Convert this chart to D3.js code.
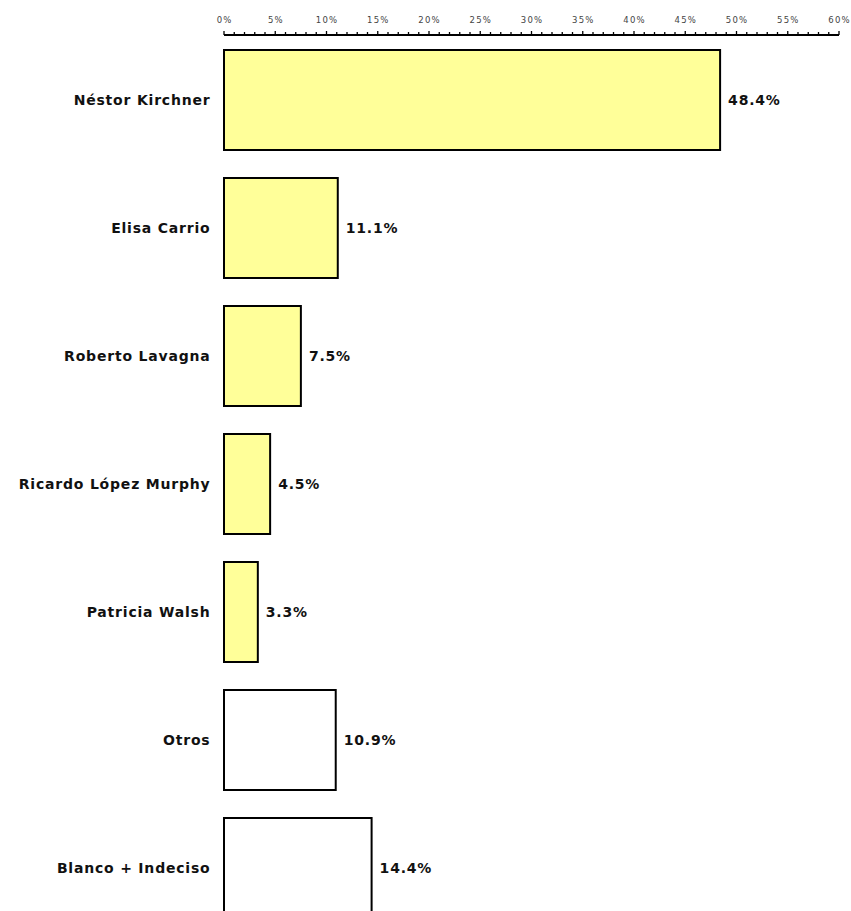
<!DOCTYPE html>
<html><head><meta charset="utf-8">
<script src="https://cdn.jsdelivr.net/npm/d3@7"></script>
<style>body{margin:0;background:#fff;overflow:hidden}</style>
</head><body>
<script>
const categories = ["Néstor Kirchner","Elisa Carrio","Roberto Lavagna","Ricardo López Murphy","Patricia Walsh","Otros","Blanco + Indeciso"];
const values = [48.4, 11.1, 7.5, 4.5, 3.3, 10.9, 14.4];
const fills = ["#FFFF99","#FFFF99","#FFFF99","#FFFF99","#FFFF99","#FFFFFF","#FFFFFF"];
const tickValues = [0,5,10,15,20,25,30,35,40,45,50,55,60];

const W = 851, H = 911;
const svg = d3.select("body").append("svg").attr("width", W).attr("height", H);
const x = d3.scaleLinear().domain([0,60]).range([224, 839]);
const y = d3.scaleBand().domain(categories).range([36, 932]).paddingInner(28/128).paddingOuter(14/128);
const font = "DejaVu Sans, Verdana, sans-serif";

// axis
const axisY = 35;
const g = svg.append("g");
g.append("line").attr("x1", x(0)).attr("x2", x(60)).attr("y1", axisY).attr("y2", axisY).attr("stroke","#000").attr("stroke-width",2);
g.selectAll(".minor").data(d3.range(0,61)).join("line")
  .attr("x1", d=>x(d)).attr("x2", d=>x(d))
  .attr("y1", d=> d%5===0 ? axisY-4 : axisY-3).attr("y2", axisY)
  .attr("stroke","#000").attr("stroke-width",1.3);
g.selectAll(".tl").data(tickValues).join("text")
  .attr("x", d=>x(d)+0.6).attr("y", 23).attr("text-anchor","middle")
  .attr("font-family",font).attr("font-size",8.5).attr("letter-spacing","1.2px").attr("fill","#444")
  .text(d=>d+"%");

// bars
svg.selectAll(".bar").data(categories).join("rect")
  .attr("x", x(0)).attr("y", d=>y(d)).attr("width", (d,i)=>x(values[i])-x(0)).attr("height", y.bandwidth())
  .attr("fill", (d,i)=>fills[i]).attr("stroke","#000").attr("stroke-width",2);

svg.selectAll(".cat").data(categories).join("text")
  .attr("x", 210.5).attr("y", d=>y(d)+y.bandwidth()/2).attr("dy","0.36em").attr("text-anchor","end")
  .attr("font-family",font).attr("font-weight","bold").attr("font-size",14).attr("letter-spacing","0.8px").attr("fill","#111")
  .text(d=>d);

svg.selectAll(".val").data(categories).join("text")
  .attr("x", (d,i)=>x(values[i])+8).attr("y", d=>y(d)+y.bandwidth()/2).attr("dy","0.36em")
  .attr("font-family",font).attr("font-weight","bold").attr("font-size",14).attr("letter-spacing","0.8px").attr("fill","#111")
  .text((d,i)=>values[i].toFixed(1)+"%");
</script>
</body></html>
